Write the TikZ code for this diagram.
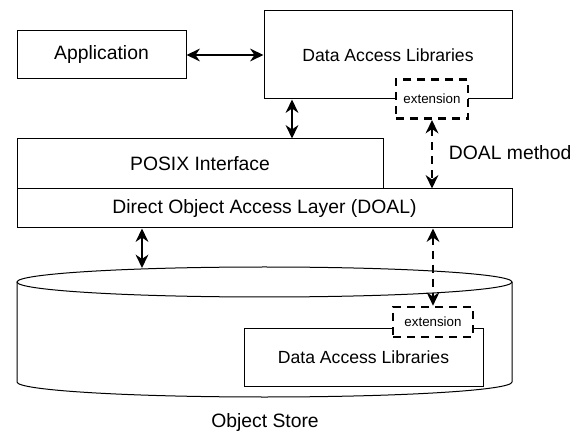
\documentclass[tikz,border=0pt]{standalone}
\usepackage{fontspec}
\setmainfont{Liberation Sans}
\usetikzlibrary{arrows.meta}

\tikzset{every picture/.style={line width=0.75pt}}
\tikzset{
  box/.style={draw, fill=white, inner sep=0pt},
  extbox/.style={draw, fill=white, dashed, line width=2pt, dash pattern=on 6pt off 4.5pt, inner sep=0pt, minimum width=54pt, minimum height=29.5pt, font=\fontsize{10}{12}\selectfont},
  biarrow/.style={{Stealth[length=10pt,width=9.5pt]}-{Stealth[length=10pt,width=9.5pt]}, line width=2.1pt},
  dasharrow/.style={biarrow, dash pattern=on 6pt off 4.5pt}
}

\begin{document}
\begin{tikzpicture}[x=0.75pt,y=0.75pt,yscale=-1,xscale=1]
		\useasboundingbox (0,0) rectangle (574,434);
		\fontsize{14.5}{17}\selectfont

		%Shape: Cylinder
		\draw (17,282) -- (17,382) arc[start angle=180, end angle=0, x radius=247.5, y radius=15] -- (512,282) ;
		\draw (264.5,282) ellipse [x radius=247.5, y radius=15] ;
		\coordinate (stortop) at (142,268) ;

		%Shape: Rectangle
		\node[box, minimum width=126.75pt, minimum height=36pt] (app) at (101.5,55) {Application};
		%Shape: Rectangle
		\node[box, minimum width=186pt, minimum height=66pt, font=\fontsize{13.2}{16}\selectfont] (dal) at (388,55) {Data Access Libraries};
		%Shape: Rectangle
		\node[box, minimum width=274.5pt, minimum height=37.5pt] (posix) at (200,164) {POSIX Interface};
		%Shape: Rectangle
		\node[box, minimum width=371.25pt, minimum height=29.25pt] (doal) at (264.5,208.5) {Direct Object Access Layer (DOAL)};
		%Shape: Rectangle
		\node[box, minimum width=179.25pt, minimum height=43.5pt, font=\fontsize{13.2}{16}\selectfont] (lib) at (363.5,357) {Data Access Libraries};

		%Shape: Rectangle (dashed)
		\node[extbox] (ext1) at (432,99) {extension};
		%Shape: Rectangle (dashed)
		\node[extbox, minimum width=60pt, minimum height=22.5pt] (ext2) at (433,322) {extension};

		\coordinate (px) at (292,0) ;
		\coordinate (dx) at (142,0) ;

		%Straight Lines
		\draw[biarrow] (app.east) -- (dal.west) ;
		%Straight Lines
		\draw[biarrow] (dal.south -| px) -- (posix.north -| px) ;
		%Straight Lines
		\draw[biarrow] (doal.south -| dx) -- (stortop) ;
		%Straight Lines
		\draw[dasharrow] (ext1.south) -- (doal.north -| ext1) ;
		%Straight Lines
		\draw[dasharrow] (doal.south -| ext2) -- (ext2.north) ;

		% Text Node
		\node[anchor=west] (method) at (442,153) {DOAL method};
		% Text Node
		\node (store) at (265,422) {Object Store};

\end{tikzpicture}
\end{document}
